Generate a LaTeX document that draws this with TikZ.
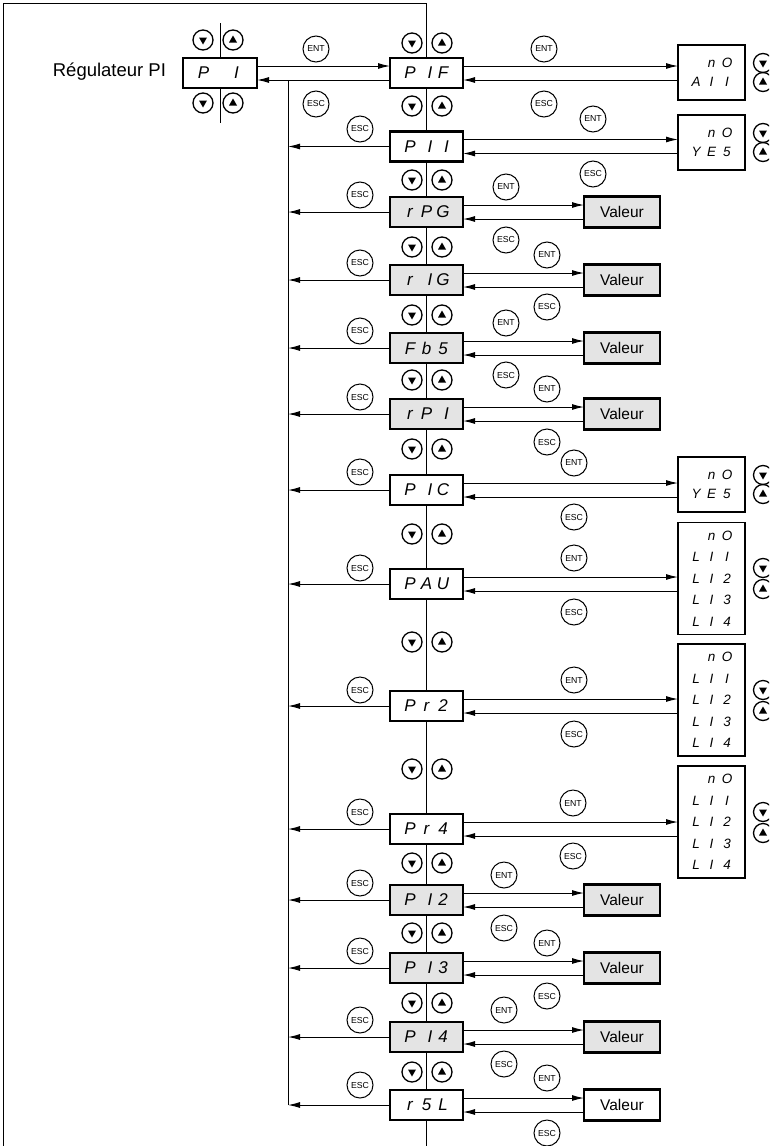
\documentclass[tikz,border=0pt]{standalone}
\usepackage{fontspec}
\setmainfont{Liberation Sans}
\usetikzlibrary{arrows.meta,calc}
\definecolor{boxgray}{RGB}{228,228,228}
\newcommand\segc[1]{\makebox[16.5pt]{#1}}
\newcommand\dsp[3]{\segc{#1}\segc{#2}\segc{#3}}
\newcommand\segl[1]{\makebox[15.5pt]{#1}}
\newcommand\dsl[3]{\segl{#1}\segl{#2}\segl{#3}}
\newcommand\segI{\hspace*{7pt}I}
\tikzset{
  every node/.style={inner sep=0pt, outer sep=0pt},
  disp/.style={draw, line width=2.4pt, minimum width=73pt, minimum height=30pt, fill=white,
    font=\fontsize{17}{17}\selectfont\itshape},
  dispg/.style={disp, fill=boxgray},
  valbox/.style={draw, line width=2.4pt, minimum width=76pt, minimum height=31pt, fill=boxgray,
    font=\fontsize{15.5}{15.5}\selectfont},
  valw/.style={valbox, fill=white},
  lsttwo/.style={draw, line width=1.3pt, minimum width=67pt, minimum height=55pt, align=center,
    font=\fontsize{13.5}{19}\selectfont\itshape},
  lstfive/.style={draw, line width=1.3pt, minimum width=67pt, minimum height=112pt, align=center,
    font=\fontsize{13.5}{21.5}\selectfont\itshape},
  key/.style={circle, draw, line width=1pt, minimum size=26pt, font=\fontsize{8.7}{8.7}\selectfont},
  btn/.style={circle, draw, line width=1.3pt, minimum size=20pt},
  btndn/.style={btn, path picture={\fill ([shift={(-4pt,2.5pt)}]path picture bounding box.center)
      -- ++(8pt,0pt) -- ++(-4pt,-7pt) -- cycle;}},
  btnup/.style={btn, path picture={\fill ([shift={(-4pt,-2.5pt)}]path picture bounding box.center)
      -- ++(8pt,0pt) -- ++(-4pt,7pt) -- cycle;}},
  arr/.style={-{Latex[length=12pt,width=6pt]}, line width=1pt},
  ln/.style={line width=1pt}
}
\begin{document}
\begin{tikzpicture}[x=1pt,y=-1pt]
\clip (0,0) rectangle (769,1146);
\fill[white] (0,0) rectangle (769,1146);
% frame and spine
\coordinate (fbl) at (3,1146);
\coordinate (ftl) at (3,3);
\coordinate (ftop) at (426.5,3);
\coordinate (fbot) at (426.5,1146);
\coordinate (bustop) at (288,80);
\draw[ln] (fbl) -- (ftl) -- (ftop);

% title and PI
\node[anchor=east, font=\fontsize{18.5}{18.5}\selectfont] (title) at (166,72) {Régulateur PI};
\node[disp, minimum width=74pt] (pi) at (220,73) {\dsp{P}{}{I}};
\draw[ln] (pi.north) -- ++(0,-35);
\draw[ln] (pi.south) -- ++(0,35);
\node[btndn] (pib1) at (203,40) {};
\node[btnup] (pib2) at (233,40) {};
\node[btndn] (pib3) at (203,103) {};
\node[btnup] (pib4) at (233,103) {};

% main column
\node[disp]  (pif) at (426.5,73)   {\dsp{P}{\segI}{F}};
\node[disp]  (pii) at (426.5,146.5) {\dsp{P}{\segI}{\segI}};
\node[dispg] (rpg) at (426.5,212)  {\dsp{r}{P}{G}};
\node[dispg] (rig) at (426.5,280)  {\dsp{r}{\segI}{G}};
\node[dispg] (fbs) at (426.5,348)  {\dsp{F}{b}{5}};
\node[dispg] (rpi) at (426.5,414)  {\dsp{r}{P}{\segI}};
\node[disp]  (pic) at (426.5,490)  {\dsp{P}{\segI}{C}};
\node[disp]  (pau) at (426.5,584)  {\dsp{P}{A}{U}};
\node[disp]  (pr2) at (426.5,706)  {\dsp{P}{r}{2}};
\node[disp]  (pr4) at (426.5,829)  {\dsp{P}{r}{4}};
\node[dispg] (pi2) at (426.5,900)  {\dsp{P}{\segI}{2}};
\node[dispg] (pi3) at (426.5,968)  {\dsp{P}{\segI}{3}};
\node[dispg] (pi4) at (426.5,1037) {\dsp{P}{\segI}{4}};
\node[disp]  (rsl) at (426.5,1105) {\dsp{r}{5}{L}};

% spine
\draw[ln] (ftop) -- (pif.north);
\draw[ln] (pif.south) -- (pii.north);
\draw[ln] (pii.south) -- (rpg.north);
\draw[ln] (rpg.south) -- (rig.north);
\draw[ln] (rig.south) -- (fbs.north);
\draw[ln] (fbs.south) -- (rpi.north);
\draw[ln] (rpi.south) -- (pic.north);
\draw[ln] (pic.south) -- (pau.north);
\draw[ln] (pau.south) -- (pr2.north);
\draw[ln] (pr2.south) -- (pr4.north);
\draw[ln] (pr4.south) -- (pi2.north);
\draw[ln] (pi2.south) -- (pi3.north);
\draw[ln] (pi3.south) -- (pi4.north);
\draw[ln] (pi4.south) -- (rsl.north);
\draw[ln] (rsl.south) -- (fbot);

% up/down buttons along spine
\foreach \yy/\nm in {43/a,106/b,180/c,247/d,315/e,380/f,449/g,534/h,642/i,769/j,863/k,933/l,1003/m,1072/n}{
  \node[btndn] (bd\nm) at (412,\yy) {};
  \node[btnup] (bu\nm) at (442,\yy) {};
}

% PI <-> PIF
\draw[arr] ([yshift=7pt]pi.east) -- ([yshift=7pt]pi.east -| pif.west);
\draw[arr] ([yshift=-7pt]pif.west) -- ([yshift=-7pt]pif.west -| pi.east);
\node[key] (k0e) at (316,49) {ENT};
\node[key] (k0s) at (316,104) {ESC};

% ESC bus
\draw[ln] (bustop) -- (bustop |- rsl.west);
\foreach \nd/\ly in {pii/129,rpg/195,rig/263,fbs/331,rpi/397,pic/472,pau/568,pr2/690,pr4/812,pi2/883,pi3/951,pi4/1020,rsl/1085}{
  \draw[arr] (\nd.west) -- (\nd.west -| bustop);
  \node[key] (kl\nd) at (360,\ly) {ESC};
}

% targets: lists
\node[lsttwo] (l1) at (711.5,72.5) {\dsl{}{n}{O}\\\dsl{A}{I}{I}};
\node[lsttwo] (l2) at (711.5,142.5) {\dsl{}{n}{O}\\\dsl{Y}{E}{5}};
\node[lsttwo] (l3) at (711.5,484.5) {\dsl{}{n}{O}\\\dsl{Y}{E}{5}};
\node[lstfive] (l4) at (711.5,578.5) {\dsl{}{n}{O}\\\dsl{L}{I}{I}\\\dsl{L}{I}{2}\\\dsl{L}{I}{3}\\\dsl{L}{I}{4}};
\node[lstfive] (l5) at (711.5,700) {\dsl{}{n}{O}\\\dsl{L}{I}{I}\\\dsl{L}{I}{2}\\\dsl{L}{I}{3}\\\dsl{L}{I}{4}};
\node[lstfive] (l6) at (711.5,822) {\dsl{}{n}{O}\\\dsl{L}{I}{I}\\\dsl{L}{I}{2}\\\dsl{L}{I}{3}\\\dsl{L}{I}{4}};
\foreach \ya/\yb/\nm in {63/82/a,133/152/b,475/494/c,568/589/d,690/711/e,812/833/f}{
  \node[btndn, minimum size=19pt] (rd\nm) at (763,\ya) {};
  \node[btnup, minimum size=19pt] (ru\nm) at (763,\yb) {};
}

% targets: values
\node[valbox] (v1) at (622,212) {Valeur};
\node[valbox] (v2) at (622,280) {Valeur};
\node[valbox] (v3) at (622,348) {Valeur};
\node[valbox] (v4) at (622,414) {Valeur};
\node[valbox] (v5) at (622,900) {Valeur};
\node[valbox] (v6) at (622,968) {Valeur};
\node[valbox] (v7) at (622,1037) {Valeur};
\node[valw]   (v8) at (622,1105) {Valeur};

% ENT / ESC connectors to targets
\foreach \nd/\tg/\ex/\ey/\sy in {pif/l1/544/49/104, pii/l2/593/119/174, rpg/v1/506/187/240,
   rig/v2/547/255/307, fbs/v3/506/323/375, rpi/v4/547/389/442, pic/l3/574/463/517,
   pau/l4/574/558/612, pr2/l5/574/680/734, pr4/l6/573/803/856, pi2/v5/504/875/928,
   pi3/v6/547/943/996, pi4/v7/504/1010/1064, rsl/v8/547/1078/1133}{
  \draw[arr] ([yshift=7pt]\nd.east) -- ([yshift=7pt]\nd.east -| \tg.west);
  \draw[arr] ([yshift=-7pt]\nd.east -| \tg.west) -- ([yshift=-7pt]\nd.east);
  \node[key] (ke\nd) at (\ex,\ey) {ENT};
  \node[key] (ks\nd) at (\ex,\sy) {ESC};
}
\end{tikzpicture}
\end{document}
